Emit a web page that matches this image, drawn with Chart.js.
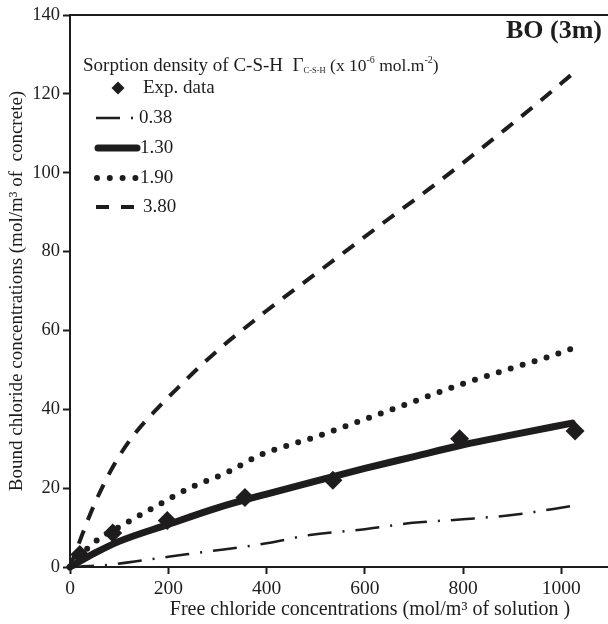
<!DOCTYPE html>
<html>
<head>
<meta charset="utf-8">
<script src="https://cdn.jsdelivr.net/npm/chart.js@4.4.1/dist/chart.umd.min.js"></script>
<style>
html,body{margin:0;padding:0;background:#fff;}
#wrap{width:608px;height:624px;position:relative;}
</style>
</head>
<body>
<div id="wrap"><canvas id="c" width="608" height="624"></canvas></div>
<script>
// ---- Data ----
const expX = [20, 87, 198, 356, 535, 793, 1028];
const expY = [3.2, 8.6, 11.8, 17.6, 22.0, 32.5, 34.5];

const c038X = [0, 50, 83, 200, 279, 400, 488, 600, 698, 800, 908, 1022];
const c038Y = [0, 0.3, 0.6, 2.6, 3.9, 6.0, 8.1, 9.6, 11.2, 12.1, 13.3, 15.5];

const c130X = [0, 50, 100, 200, 300, 400, 500, 600, 700, 800, 900, 1022];
const c130Y = [0, 3.5, 6.5, 10.8, 15.0, 18.5, 21.8, 25.0, 28.0, 31.0, 33.5, 36.5];

const c190X = [0, 47, 112, 179, 248, 320, 387, 500, 600, 700, 800, 898, 971, 1020];
const c190Y = [0, 6.0, 11.0, 15.7, 20.3, 24.0, 28.4, 33.0, 37.5, 42.0, 46.5, 50.4, 53.2, 55.3];

const c380X = [0, 15, 50, 90, 130, 180, 220, 270, 320, 370, 400, 480, 560, 640, 727, 800, 886, 960, 1020];
const c380Y = [0, 5, 16, 26, 33.5, 40.5, 45.5, 51.5, 57, 62, 65, 72.5, 80, 87.5, 95.5, 102.5, 111, 118.5, 124.8];

const xTicks = [0, 200, 400, 600, 800, 1000];
const yTicks = [0, 20, 40, 60, 80, 100, 120, 140];

const legendLabels = ['Exp. data', '0.38', '1.30', '1.90', '3.80'];
const chartTitle = 'BO (3m)';
const xTitle = 'Free chloride concentrations (mol/m\u00b3 of solution )';
const yTitle = 'Bound chloride concentrations (mol/m\u00b3 of  concrete)';

// ---- Build ----
const zip = (xs, ys) => xs.map((x, i) => ({x: x, y: ys[i]}));
const INK = '#1e1c1d';
const SERIF = '"Liberation Serif", "Times New Roman", serif';

const lineDS = (label, xs, ys, width, dash, cap) => ({
  label: label,
  data: zip(xs, ys),
  showLine: true,
  borderColor: INK,
  backgroundColor: INK,
  borderWidth: width,
  borderDash: dash,
  borderCapStyle: cap,
  borderJoinStyle: 'round',
  pointRadius: 0,
  pointHoverRadius: 0,
  cubicInterpolationMode: 'monotone',
  fill: false,
  clip: false
});

const datasets = [
  lineDS(legendLabels[1], c038X, c038Y, 2.5, [24, 11, 2, 11], 'butt'),
  lineDS(legendLabels[3], c190X, c190Y, 6, [0, 12.5], 'round'),
  lineDS(legendLabels[4], c380X, c380Y, 4, [14, 11], 'butt'),
  lineDS(legendLabels[2], c130X, c130Y, 7, [], 'round'),
  {
    label: legendLabels[0],
    data: zip(expX, expY),
    showLine: false,
    pointStyle: 'rectRot',
    pointRadius: 9.5,
    pointHoverRadius: 9.5,
    backgroundColor: INK,
    borderColor: INK,
    borderWidth: 0,
    clip: false
  }
];

const extras = {
  id: 'extras',
  afterDraw(chart) {
    const ctx = chart.ctx;
    const a = chart.chartArea;
    ctx.save();
    // top border
    ctx.strokeStyle = INK;
    ctx.lineWidth = 2;
    ctx.beginPath();
    ctx.moveTo(a.left - 1, a.top);
    ctx.lineTo(a.right, a.top);
    ctx.stroke();

    // chart title
    ctx.fillStyle = INK;
    ctx.font = 'bold 26px ' + SERIF;
    ctx.textAlign = 'right';
    ctx.textBaseline = 'middle';
    ctx.fillText(chartTitle, 602, 31);

    // x axis title
    ctx.font = '20px ' + SERIF;
    ctx.textAlign = 'center';
    ctx.fillText(xTitle, 370, 610);

    // legend title with sub/superscripts
    ctx.textAlign = 'left';
    ctx.textBaseline = 'alphabetic';
    let x = 83, base = 71;
    const piece = (t, size, dy) => {
      ctx.font = size + 'px ' + SERIF;
      ctx.fillText(t, x, base + dy);
      x += ctx.measureText(t).width;
    };
    piece('Sorption density of C-S-H  \u0393', 19, 0);
    piece('C-S-H', 8.5, 2);
    piece(' (x 10', 17.5, 0);
    piece('-6', 10, -8);
    piece(' mol.m', 17.5, 0);
    piece('-2', 10, -8);
    piece(')', 17.5, 0);

    // legend items
    const rows = [88, 118, 148, 178, 207];
    ctx.font = '19px ' + SERIF;
    ctx.textBaseline = 'middle';
    // diamond
    ctx.beginPath();
    const dx = 118, dy = rows[0], r = 6.5;
    ctx.moveTo(dx - r, dy); ctx.lineTo(dx, dy - r); ctx.lineTo(dx + r, dy); ctx.lineTo(dx, dy + r);
    ctx.closePath(); ctx.fill();
    ctx.fillText(legendLabels[0], 143, rows[0]);

    const sample = (y, w, dash, cap, x1, x2) => {
      ctx.beginPath();
      ctx.lineWidth = w;
      ctx.setLineDash(dash);
      ctx.lineCap = cap;
      ctx.moveTo(x1, y); ctx.lineTo(x2, y);
      ctx.stroke();
      ctx.setLineDash([]);
    };
    sample(rows[1], 2.5, [24, 11, 2, 11], 'butt', 96, 133);
    ctx.fillText(legendLabels[1], 139, rows[1]);
    sample(rows[2], 7, [], 'round', 98, 137);
    ctx.fillText(legendLabels[2], 140, rows[2]);
    sample(rows[3], 6, [0, 12.8], 'round', 97, 137);
    ctx.fillText(legendLabels[3], 140, rows[3]);
    sample(rows[4], 4, [13, 12], 'butt', 96, 134);
    ctx.fillText(legendLabels[4], 143, rows[4]);
    ctx.restore();
  }
};

new Chart(document.getElementById('c'), {
  type: 'scatter',
  data: { datasets: datasets },
  options: {
    responsive: false,
    animation: false,
    layout: { autoPadding: false, padding: { top: 15, right: 0, left: 0, bottom: 0 } },
    plugins: { legend: { display: false }, tooltip: { enabled: false } },
    scales: {
      x: {
        type: 'linear',
        min: 0,
        max: 1095,
        afterBuildTicks: s => { s.ticks = xTicks.map(v => ({value: v})); },
        afterFit: s => { s.height = 57; s.paddingRight = 0; s.paddingLeft = 0; },
        border: { display: true, color: INK, width: 2 },
        grid: { display: true, drawOnChartArea: false, drawTicks: true, tickLength: 7, tickWidth: 2, tickColor: INK },
        ticks: { color: INK, font: { family: SERIF, size: 19.5 }, padding: 3, maxRotation: 0, autoSkip: false,
                 callback: v => String(v) },
        title: { display: false }
      },
      y: {
        type: 'linear',
        min: 0,
        max: 140,
        afterBuildTicks: s => { s.ticks = yTicks.map(v => ({value: v})); },
        afterFit: s => { s.width = 70; s.paddingTop = 0; s.paddingBottom = 0; },
        border: { display: true, color: INK, width: 2 },
        grid: { display: true, drawOnChartArea: false, drawTicks: true, tickLength: 7, tickWidth: 2, tickColor: INK },
        ticks: { color: INK, font: { family: SERIF, size: 18.5 }, padding: 3, autoSkip: false,
                 callback: v => String(v) },
        title: { display: true, text: yTitle, color: INK,
                 font: { family: SERIF, size: 19 }, padding: { top: 6, bottom: 0 } }
      }
    }
  },
  plugins: [extras]
});
</script>
</body>
</html>
